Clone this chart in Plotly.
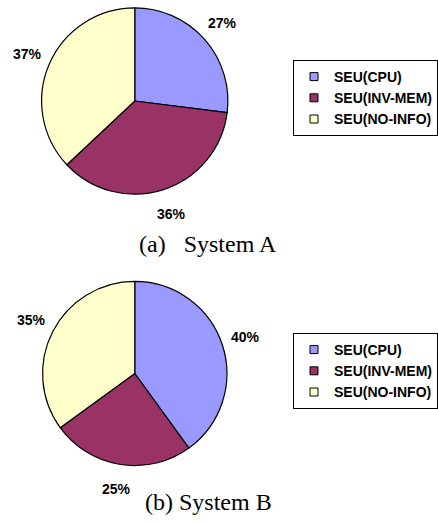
import math
import plotly.graph_objects as go

# Share of SEU events by source, per system
categories = ["SEU(CPU)", "SEU(INV-MEM)", "SEU(NO-INFO)"]
system_a = [27, 36, 37]
system_b = [40, 25, 35]
captions = ["(a)\u00a0\u00a0\u00a0System A", "(b) System B"]
colors = ["#9999FF", "#993366", "#FFFFCC"]

W, H = 438, 524

# pie placement in pixels: centre x, centre y (from top), radius
pies = [
    dict(values=system_a, cx=136, cy=101, r=94, legend="legend", cap_y=244),
    dict(values=system_b, cx=136, cy=373.5, r=93, legend="legend2", cap_y=502),
]

fig = go.Figure()
annotations = []

for p, cap in zip(pies, captions):
    cx, cy, r = p["cx"], p["cy"], p["r"]
    fig.add_trace(go.Pie(
        values=p["values"],
        labels=categories,
        sort=False,
        direction="clockwise",
        rotation=0,
        textinfo="none",
        showlegend=False,
        marker=dict(colors=colors, line=dict(color="black", width=1.2)),
        domain=dict(x=[(cx - r) / W, (cx + r) / W],
                    y=[1 - (cy + r) / H, 1 - (cy - r) / H]),
    ))
    # percentage labels placed outside each slice at its mid angle
    total = sum(p["values"])
    cum = 0
    for v in p["values"]:
        mid = (cum + v / 2) / total * 2 * math.pi
        cum += v
        d = r * 1.26
        x = cx + d * math.sin(mid)
        y = cy - d * math.cos(mid)
        annotations.append(dict(
            x=x / W, y=1 - y / H, xref="paper", yref="paper",
            xanchor="center", yanchor="middle",
            text=f"<b>{round(v / total * 100)}%</b>", showarrow=False,
            font=dict(family="Liberation Sans, Arial", size=14, color="black"),
        ))
    annotations.append(dict(
        x=210 / W, y=1 - p["cap_y"] / H, xref="paper", yref="paper",
        xanchor="center", yanchor="middle",
        text=cap, showarrow=False,
        font=dict(family="Liberation Serif, Times New Roman", size=24, color="black"),
    ))
    # legend entries for this system
    for name, c in zip(categories, colors):
        fig.add_trace(go.Scatter(
            x=[None], y=[None], mode="markers", name=f"<b>{name}</b>",
            legend=p["legend"], hoverinfo="skip",
            marker=dict(symbol="square", size=8, color=c,
                        line=dict(color="black", width=1)),
        ))

legend_style = dict(
    xanchor="left", yanchor="top",
    bgcolor="white", bordercolor="black", borderwidth=1,
    font=dict(family="Liberation Sans, Arial", size=14, color="black"),
    itemclick=False, itemdoubleclick=False,
)

fig.update_layout(
    width=W, height=H,
    margin=dict(l=0, r=0, t=0, b=0),
    paper_bgcolor="white", plot_bgcolor="white",
    xaxis=dict(visible=False), yaxis=dict(visible=False),
    annotations=annotations,
    legend=dict(x=296 / W, y=1 - 60 / H, **legend_style),
    legend2=dict(x=296 / W, y=1 - 333 / H, **legend_style),
)

fig.write_html("out.html")
